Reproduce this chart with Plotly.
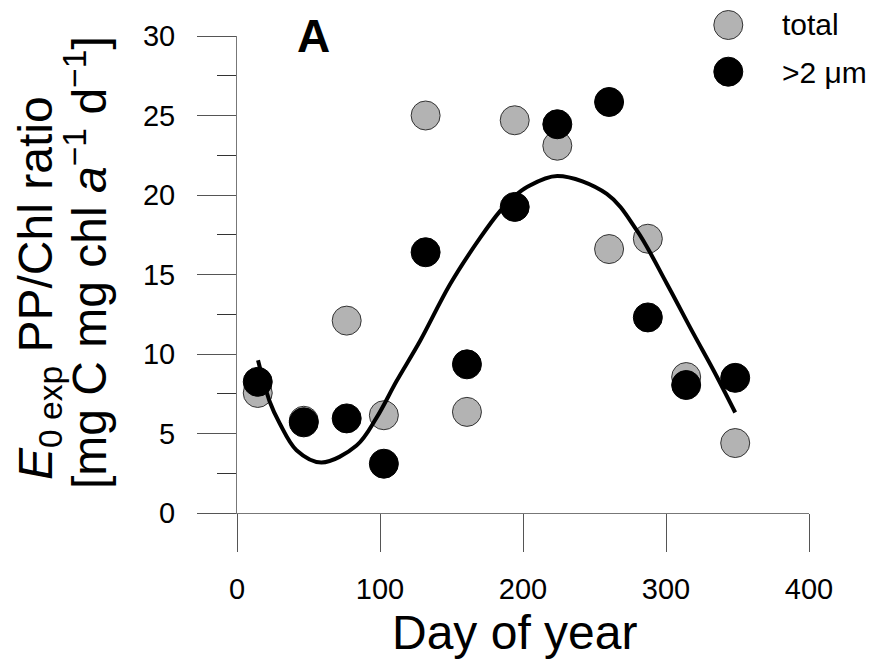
import plotly.graph_objects as go

# Sampling days (day of year)
days = [14.5, 46.7, 76.7, 102.7, 131.9, 160.8, 194.2, 224.0, 260.2, 287.3, 314.1, 348.4]

# E0exp PP/Chl ratio, whole community and >2 um fraction
total = [7.55, 5.8, 12.1, 6.15, 25.0, 6.36, 24.7, 23.1, 16.6, 17.25, 8.55, 4.4]
large = [8.25, 5.7, 5.95, 3.1, 16.4, 9.35, 19.25, 24.45, 25.85, 12.3, 8.05, 8.5]

# Seasonal fit curve
fit_days = [14.7, 22.9, 29.9, 41.6, 59.0, 83.6, 97.6, 111.6, 127.9, 149.1, 170.0,
            184.1, 193.2, 202.8, 224.0, 258.6, 279.6, 300.6, 319.2, 333.2, 348.4]
fit_vals = [9.6, 7.0, 5.63, 3.95, 3.18, 4.25, 6.0, 8.3, 10.8, 14.4, 17.3,
            19.0, 19.85, 20.5, 21.2, 20.07, 17.77, 14.42, 11.28, 8.98, 6.32]

x_ticks = [0, 100, 200, 300, 400]
y_ticks = [0, 5, 10, 15, 20, 25, 30]

FONT = "Arial, Liberation Sans, sans-serif"
GRAY_FILL = "#b3b3b3"
W, H = 875, 664
L, R, T, B = 237, 66, 36, 151
PW, PH = W - L - R, H - T - B


def px_x(p):
    return (p - L) / PW


def px_y(p):
    return (H - B - p) / PH


fig = go.Figure()

fig.add_trace(go.Scatter(
    x=days, y=total, mode="markers", name="total",
    marker=dict(size=29, color=GRAY_FILL, line=dict(color="#333333", width=1)),
    cliponaxis=False, showlegend=False,
))
fig.add_trace(go.Scatter(
    x=days, y=large, mode="markers", name=">2 μm",
    marker=dict(size=29, color="black", line=dict(color="black", width=1)),
    cliponaxis=False, showlegend=False,
))
fig.add_trace(go.Scatter(
    x=fit_days, y=fit_vals, mode="lines",
    line=dict(color="black", width=4, shape="spline", smoothing=1.0),
    cliponaxis=False, showlegend=False,
))

axis_common = dict(
    showline=True, linecolor="#777777", linewidth=1,
    ticks="outside", tickwidth=1, tickcolor="#555555",
    showgrid=False, zeroline=False,
    tickfont=dict(family=FONT, size=29, color="black"),
)

fig.update_xaxes(
    range=[0, 400], tickmode="array", tickvals=x_ticks,
    ticklen=38, ticklabelstandoff=12, **axis_common,
)
fig.update_yaxes(
    range=[0, 30], tickmode="array", tickvals=y_ticks,
    ticklen=39, ticklabelstandoff=16,
    minor=dict(dtick=2.5, tick0=0, ticks="outside", ticklen=19,
               tickwidth=1, tickcolor="#333333"),
    **axis_common,
)

annotations = [
    dict(text="Day of year", x=px_x(514), y=px_y(632),
         font=dict(family=FONT, size=48, color="black")),
    dict(text="<i>E</i><sub>0 exp</sub> PP/Chl ratio", textangle=-90,
         x=px_x(39), y=px_y(288),
         font=dict(family=FONT, size=48, color="black")),
    dict(text="[mg C mg chl <i>a</i><sup>−1</sup> d<sup>−1</sup>]", textangle=-90,
         x=px_x(86), y=px_y(262),
         font=dict(family=FONT, size=48, color="black")),
    dict(text="<b>A</b>", x=px_x(313.5), y=px_y(36.5),
         font=dict(family=FONT, size=46, color="black")),
    dict(text="total", x=px_x(780), y=px_y(24), xanchor="left",
         font=dict(family=FONT, size=30, color="black")),
    dict(text=">2 μm", x=px_x(780), y=px_y(72), xanchor="left",
         font=dict(family=FONT, size=30, color="black")),
]
for a in annotations:
    a.setdefault("xanchor", "center")
    a.update(xref="paper", yref="paper", yanchor="middle", showarrow=False)

# Legend symbols
shapes = []
for cy, fill, edge in [(25, GRAY_FILL, "#333333"), (71.7, "black", "black")]:
    shapes.append(dict(
        type="circle", xref="paper", yref="paper",
        xsizemode="pixel", ysizemode="pixel",
        xanchor=px_x(728.3), yanchor=px_y(cy),
        x0=-14.5, x1=14.5, y0=-14.5, y1=14.5,
        fillcolor=fill, line=dict(color=edge, width=1),
    ))

fig.update_layout(
    width=W, height=H, autosize=False,
    margin=dict(l=L, r=R, t=T, b=B, pad=0),
    paper_bgcolor="white", plot_bgcolor="white",
    annotations=annotations, shapes=shapes,
    showlegend=False,
)

fig.write_html("out.html")
